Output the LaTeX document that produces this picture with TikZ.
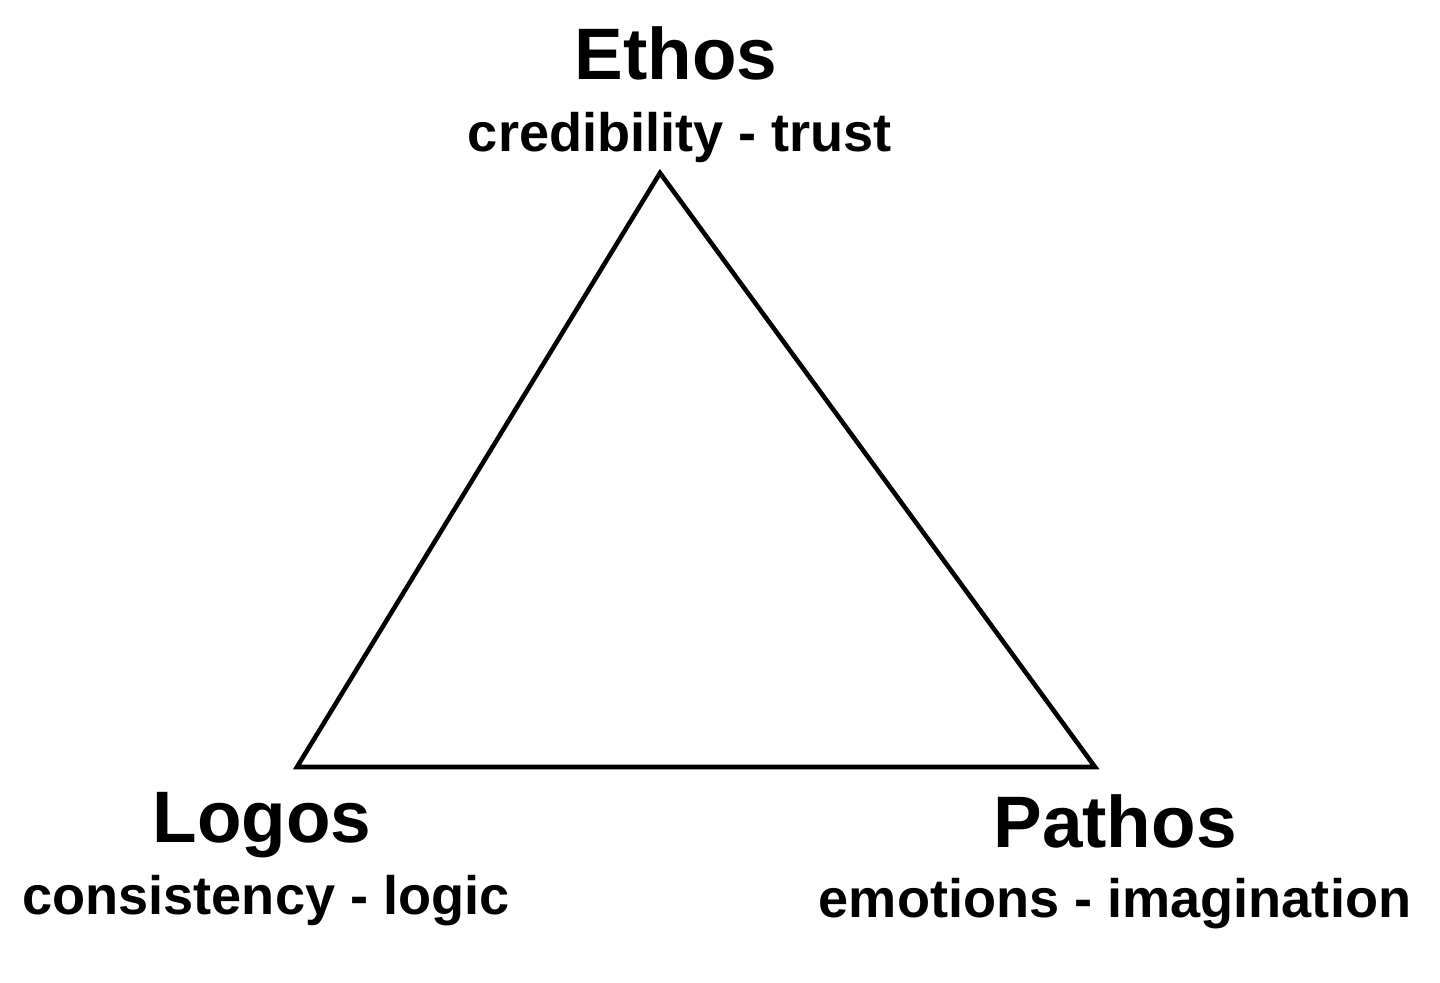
\documentclass[tikz,border=0pt]{standalone}
\usepackage{fontspec}
\setmainfont{Liberation Sans}
\usetikzlibrary{positioning}
\tikzset{title/.style={font=\fontsize{41.5}{44}\selectfont\bfseries, anchor=base, inner sep=0pt},
         desc/.style={font=\fontsize{30.8}{33}\selectfont\bfseries, anchor=base, inner sep=0pt},
         side/.style={line width=2.6pt, line join=miter}}

\begin{document}
\begin{tikzpicture}
    \useasboundingbox (0,0) rectangle (28.8,19.66);
    \coordinate (top) at (13.2,16.2);
    \coordinate (left) at (5.94,4.32);
    \coordinate (right) at (21.9,4.32);
    \node (ethos) [title] at (13.52,18.06) {Ethos};
    \node (ethosdesc) [desc] at (13.6,16.62) {credibility - trust};
    \node (logos) [title] at (5.24,2.8) {Logos};
    \node (logosdesc) [desc] at (5.32,1.36) {consistency - logic};
    \node (pathos) [title] at (22.3,2.7) {Pathos};
    \node (pathosdesc) [desc] at (22.3,1.3) {emotions - imagination};
    \draw [side] (top) -- (right) -- (left) -- cycle;
\end{tikzpicture}
\end{document}
